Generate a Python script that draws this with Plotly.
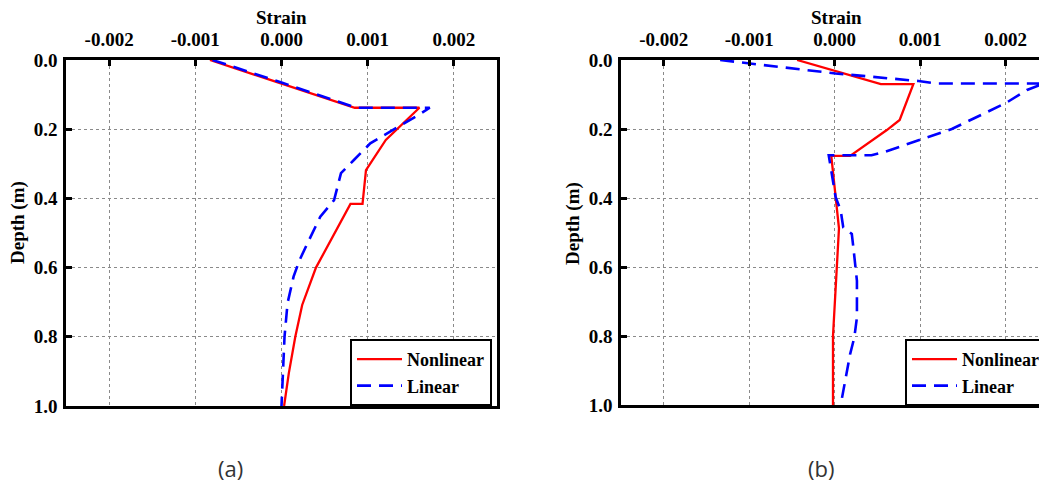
import plotly.graph_objects as go

# ---------------- data ----------------
x_tick_vals = [-0.002, -0.001, 0.0, 0.001, 0.002]
x_tick_text = ["-0.002", "-0.001", "0.000", "0.001", "0.002"]
y_tick_vals = [0.0, 0.2, 0.4, 0.6, 0.8, 1.0]
y_tick_text = ["0.0", "0.2", "0.4", "0.6", "0.8", "1.0"]

# (a)
a_nl_depth = [0.0, 0.138, 0.138, 0.231, 0.318, 0.416, 0.416, 0.60, 0.708, 0.80, 0.905, 1.0]
a_nl_strain = [-0.00083, 0.00085, 0.0016, 0.00121, 0.00098, 0.00094, 0.0008, 0.0004, 0.00024, 0.00016, 0.000085, 0.00003]
a_lin_depth = [0.0, 0.065, 0.138, 0.138, 0.154, 0.207, 0.241, 0.289, 0.327, 0.405, 0.453, 0.52, 0.578, 0.626, 0.703, 0.80, 0.915, 1.0]
a_lin_strain = [-0.00080, 0.0, 0.00087, 0.00172, 0.00162, 0.00127, 0.00103, 0.00084, 0.00069, 0.00061, 0.00045, 0.00032,
                0.00021, 0.00014, 0.00007, 0.000035, 0.00001, 0.0]

# (b)
b_nl_depth = [0.0, 0.07, 0.07, 0.174, 0.203, 0.278, 0.278, 0.488, 0.80, 1.0]
b_nl_strain = [-0.00044, 0.00054, 0.00092, 0.00076, 0.00061, 0.00018, -0.00004, 0.00005, -0.00002, -0.00002]
b_lin_depth = [0.0, 0.01, 0.039, 0.061, 0.068, 0.068, 0.087, 0.125, 0.200, 0.242, 0.267, 0.276, 0.276, 0.397, 0.436,
               0.485, 0.504, 0.547, 0.64, 0.746, 0.804, 0.853, 0.921, 1.0]
b_lin_strain = [-0.00134, -0.001, 0.00001, 0.00098, 0.00118, 0.00245, 0.00225, 0.002, 0.00137, 0.00087, 0.00058, 0.00043,
                -0.00007, 0.00001, 0.00007, 0.0001, 0.0002, 0.00022, 0.00026, 0.00026, 0.00023, 0.00018, 0.00013, 0.00007]

series_names = ["Nonlinear", "Linear"]

# ---------------- layout helpers ----------------
W, H = 1039, 487


def fx(p):
    return p / W


def fy(p):
    return 1 - p / H


SERIF = "Liberation Serif, Times New Roman, serif"
tick_font = dict(family=SERIF, size=19, color="black", weight="bold")
RED = "#ff0000"
BLUE = "#0000ff"

fig = go.Figure()
fig.add_trace(go.Scatter(x=a_nl_strain, y=a_nl_depth, mode="lines", name=series_names[0],
                         line=dict(color=RED, width=2.3), xaxis="x", yaxis="y", legend="legend"))
fig.add_trace(go.Scatter(x=a_lin_strain, y=a_lin_depth, mode="lines", name=series_names[1],
                         line=dict(color=BLUE, width=2.6, dash="14px,8px"), xaxis="x", yaxis="y", legend="legend"))
fig.add_trace(go.Scatter(x=b_nl_strain, y=b_nl_depth, mode="lines", name=series_names[0],
                         line=dict(color=RED, width=2.3), xaxis="x2", yaxis="y2", legend="legend2"))
fig.add_trace(go.Scatter(x=b_lin_strain, y=b_lin_depth, mode="lines", name=series_names[1],
                         line=dict(color=BLUE, width=2.6, dash="14px,8px"), xaxis="x2", yaxis="y2", legend="legend2"))

common_x = dict(range=[-0.0025, 0.0025], side="top", tickvals=x_tick_vals, ticktext=x_tick_text,
                ticks="inside", ticklen=6, tickwidth=2.5, tickcolor="black", showline=True, linewidth=2.5,
                linecolor="black", mirror=True, showgrid=True, gridcolor="#8a8a8a", griddash="dot", gridwidth=1,
                zeroline=False, tickfont=tick_font, ticklabelstandoff=4, automargin=False)
common_y = dict(range=[1.0, 0.0], tickvals=y_tick_vals, ticktext=y_tick_text,
                ticks="inside", ticklen=6, tickwidth=2.5, tickcolor="black", showline=True, linewidth=2.5,
                linecolor="black", showgrid=True, gridcolor="#8a8a8a", griddash="dot", gridwidth=1,
                zeroline=False, tickfont=tick_font, ticklabelstandoff=2, automargin=False)

x1 = dict(common_x, domain=[fx(66), fx(497)], anchor="y")
y1 = dict(common_y, domain=[fy(406), fy(60)], anchor="x", mirror=True)
x2 = dict(common_x, domain=[fx(621), 1.0], anchor="y2", range=[-0.0025, 0.00239])
y2 = dict(common_y, domain=[fy(405), fy(60)], anchor="x2", mirror=False)

legend_common = dict(xanchor="left", yanchor="top", bordercolor="black", borderwidth=2, bgcolor="white",
                     font=dict(family=SERIF, size=18, color="black", weight="bold"), itemwidth=45,
                     tracegroupgap=0)

title_font = dict(family=SERIF, size=19, color="black")
annotations = [
    dict(text="<b>Strain</b>", x=fx(281.5), y=fy(18), xref="paper", yref="paper", showarrow=False,
         font=title_font, xanchor="center", yanchor="middle"),
    dict(text="<b>Strain</b>", x=fx(836), y=fy(18), xref="paper", yref="paper", showarrow=False,
         font=title_font, xanchor="center", yanchor="middle"),
    dict(text="<b>Depth (m)</b>", x=fx(18), y=fy(223), xref="paper", yref="paper", showarrow=False, textangle=-90,
         font=title_font, xanchor="center", yanchor="middle"),
    dict(text="<b>Depth (m)</b>", x=fx(573), y=fy(224), xref="paper", yref="paper", showarrow=False, textangle=-90,
         font=title_font, xanchor="center", yanchor="middle"),
    dict(text="(a)", x=fx(230), y=fy(468), xref="paper", yref="paper", showarrow=False,
         font=dict(family="Open Sans", size=22, color="#333333"), xanchor="center", yanchor="middle"),
    dict(text="(b)", x=fx(821), y=fy(468), xref="paper", yref="paper", showarrow=False,
         font=dict(family="Open Sans", size=22, color="#333333"), xanchor="center", yanchor="middle"),
]

fig.update_layout(
    width=W, height=H, margin=dict(l=0, r=0, t=0, b=0, autoexpand=False),
    paper_bgcolor="white", plot_bgcolor="white",
    xaxis=x1, yaxis=y1, xaxis2=x2, yaxis2=y2,
    legend=dict(legend_common, x=fx(350), y=fy(339)),
    legend2=dict(legend_common, x=fx(905), y=fy(339)),
    annotations=annotations,
    showlegend=True,
)

fig.write_html("out.html")
